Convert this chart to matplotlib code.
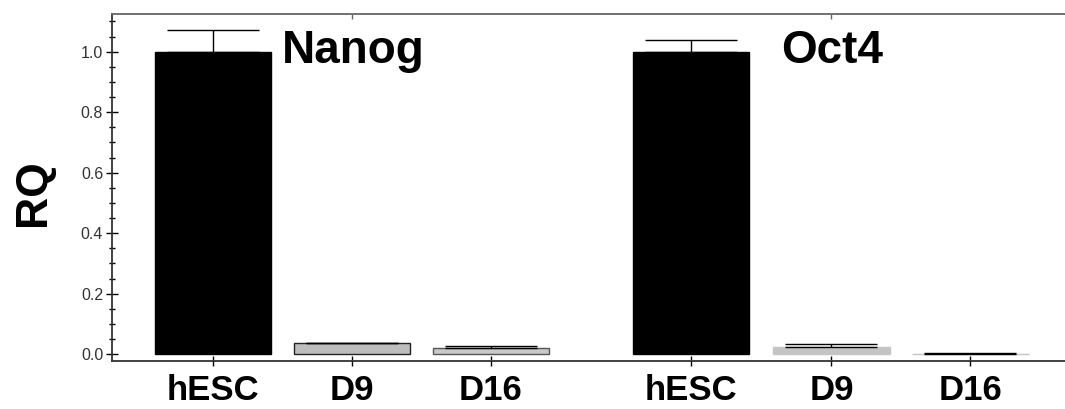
import numpy as np
import matplotlib.pyplot as plt
from matplotlib.ticker import MultipleLocator

# qPCR relative quantification, Nanog and Oct4
labels = ['hESC', 'D9', 'D16', 'hESC', 'D9', 'D16']
rq = [1.0, 0.037, 0.022, 1.0, 0.025, 0.001]
err = [0.072, 0.001, 0.004, 0.039, 0.008, 0.002]
genes = ['Nanog', 'Oct4']

pos = np.array([0, 1, 2, 3.44, 4.45, 5.45])
colors = ['black', '#bdbdbd', '#c9c9c9', 'black', '#c4c4c4', '#c4c4c4']
edges = ['black', '#222222', '#555555', 'black', '#c4c4c4', '#c4c4c4']

plt.rcParams['font.family'] = ['Liberation Sans', 'DejaVu Sans']

fig = plt.figure(figsize=(10.65, 4.09), dpi=100)
ax = fig.add_axes([0.105, 0.117, 0.895, 0.849])

ax.bar(pos, rq, width=0.84, color=colors, edgecolor=edges, linewidth=1.0, zorder=2)
ax.errorbar(pos, rq, yerr=[np.zeros(len(err)), err], fmt='none', ecolor='black',
            elinewidth=1.0, capsize=33, capthick=1.0, zorder=3)

ax.set_xlim(-0.727, 6.13)
ax.set_ylim(-0.023, 1.125)

ax.spines['right'].set_visible(False)
for s in ['left', 'bottom']:
    ax.spines[s].set_color('#333333')
    ax.spines[s].set_linewidth(1.3)
ax.spines['top'].set_color('#666666')
ax.spines['top'].set_linewidth(1.3)

ax.set_yticks([0, 0.2, 0.4, 0.6, 0.8, 1.0])
ax.set_yticklabels(['0.0', '0.2', '0.4', '0.6', '0.8', '1.0'])
ax.yaxis.set_minor_locator(MultipleLocator(0.05))
ax.tick_params(axis='y', which='major', direction='inout', length=8.5, width=1.0,
               labelsize=11.5, labelcolor='#333333', pad=2)
ax.tick_params(axis='y', which='minor', direction='inout', length=4.5, width=1.0)

ax.set_xticks(pos)
ax.set_xticklabels(labels, fontsize=25, fontweight='bold')
ax.tick_params(axis='x', direction='inout', length=7, width=1.0, pad=6)

top = ax.secondary_xaxis('top')
top.set_xticks([1, 4.45])
top.set_xticklabels([])
top.tick_params(direction='in', length=3.5, width=1.0, color='#666666')
top.spines['top'].set_visible(False)

ax.text(0.496, 0.963, genes[0], fontsize=33, fontweight='bold', ha='left', va='baseline')
ax.text(4.09, 0.963, genes[1], fontsize=33, fontweight='bold', ha='left', va='baseline')

fig.text(0.031, 1 - 193 / 409, 'RQ', rotation=90, fontsize=32, fontweight='bold',
         ha='center', va='center')

fig.savefig('out.png', dpi=100)
